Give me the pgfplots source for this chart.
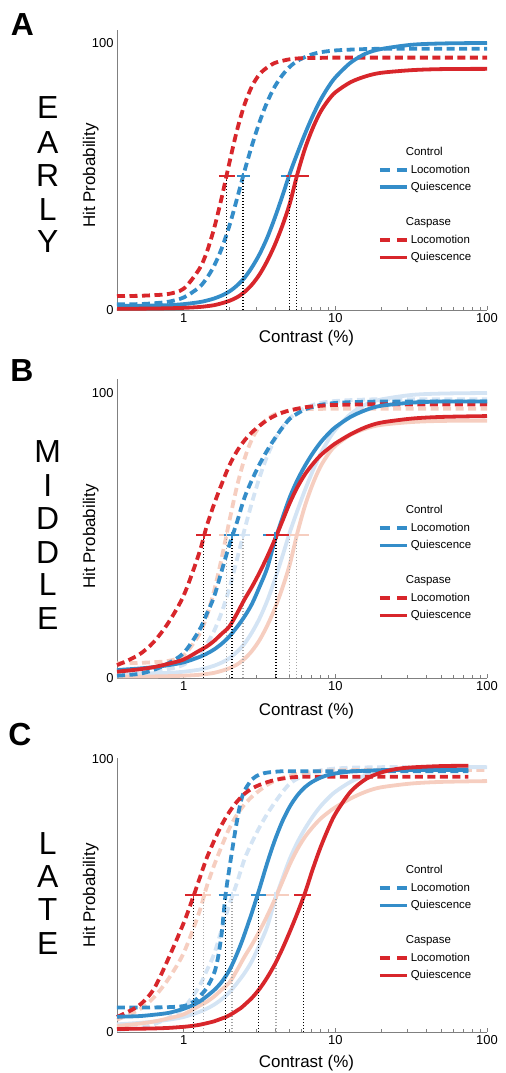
\documentclass[border=0pt]{standalone}
\usepackage{fontspec}
\setmainfont{Liberation Sans}
\usepackage{pgfplots}
\usepackage{pgfplotstable}
\pgfplotsset{compat=1.18}

\definecolor{cb}{RGB}{52,141,201}
\definecolor{cr}{RGB}{216,38,43}
\definecolor{cbf}{RGB}{212,228,244}
\definecolor{crf}{RGB}{246,206,192}
\definecolor{axg}{RGB}{128,128,128}
\definecolor{dotf}{RGB}{165,165,165}

% EARLY
\pgfplotstableread{
x rd bd bs rs
0.363 5.2 2.1 1.5 0.5
0.501 5.3 2.2 1.6 0.5
0.631 5.55 2.5 1.7 0.55
0.794 6.0 3.1 1.8 0.65
1.000 8.0 4.7 2.2 0.8
1.259 15.1 8.4 2.9 1.1
1.413 21.4 11.8 3.5 1.4
1.585 30.5 16.5 4.3 1.8
1.778 42.0 23.0 5.4 2.5
1.995 54.8 31.3 6.9 3.4
2.239 67.0 41.4 9.1 4.7
2.512 76.8 51.9 12.0 6.7
2.818 83.8 61.6 16.0 9.5
3.162 88.3 70.4 20.9 13.3
3.548 90.8 77.8 27.0 18.3
3.981 92.5 83.6 34.4 24.3
4.467 93.3 87.9 42.6 31.5
5.012 93.9 91.1 51.2 40.0
5.623 94.2 93.3 58.8 51.0
6.310 94.3 94.7 66.0 60.5
7.079 94.4 95.8 72.6 68.0
7.943 94.4 96.5 78.4 74.0
8.913 94.5 96.9 83.2 78.3
10.00 94.5 97.2 87.1 81.5
12.59 94.5 97.5 92.6 85.3
15.85 94.5 97.7 96.0 87.5
19.95 94.5 97.8 97.7 88.8
31.62 94.5 97.8 99.3 89.8
50.12 94.5 97.8 99.8 90.2
100.0 94.5 97.8 100.0 90.3
}\tA

% MIDDLE
\pgfplotstableread{
x rd bd bs rs
0.363 4.5 0.8 2.8 2.2
0.501 8.0 1.4 3.3 3.0
0.631 12.5 2.8 3.8 3.8
0.794 19.5 5.2 4.5 5.0
1.000 29.0 8.8 5.5 6.5
1.259 43.5 16.5 7.3 9.5
1.413 53.0 22.3 8.5 11.0
1.585 61.0 28.5 10.0 13.0
1.778 68.0 37.5 12.0 15.5
1.995 74.5 46.5 14.5 18.0
2.239 79.5 54.5 17.8 22.5
2.512 83.3 63.2 21.5 27.5
2.818 86.2 69.5 26.0 32.0
3.162 88.5 75.0 32.0 37.0
3.548 90.5 79.8 38.5 42.5
3.981 92.0 84.0 48.0 48.5
4.467 93.1 87.8 56.0 55.0
5.012 93.9 91.0 63.5 61.5
5.623 94.5 92.8 69.5 67.0
6.310 95.0 94.3 74.5 71.5
7.079 95.3 95.1 78.8 75.0
7.943 95.5 95.8 82.5 78.0
8.913 95.7 96.2 85.5 80.3
10.00 95.8 96.5 88.0 82.3
12.59 95.9 96.8 91.6 85.5
15.85 96.0 96.9 94.0 88.0
19.95 96.0 97.0 95.5 89.6
31.62 96.0 97.0 96.6 91.0
50.12 96.0 97.0 97.0 91.6
100.0 96.0 97.0 97.0 91.9
}\tB

% LATE
\pgfplotstableread{
x rd bd bs rs
0.363 5.5 9.0 5.6 1.1
0.501 9.5 9.0 5.8 1.2
0.631 15.5 9.0 6.3 1.3
0.794 27.0 9.1 7.0 1.5
1.000 40.0 9.5 8.5 1.9
1.122 47.5 10.5 9.6 2.2
1.259 55.5 12.8 11.0 2.6
1.413 63.5 16.0 13.0 3.2
1.585 70.0 21.5 15.3 3.9
1.679 73.0 27.0 16.7 4.4
1.778 75.8 36.0 18.3 4.9
1.884 78.3 50.0 20.3 5.4
1.995 80.5 59.5 22.5 6.1
2.113 82.5 68.5 25.3 6.9
2.239 84.3 77.0 28.5 7.8
2.371 85.8 84.0 31.9 8.7
2.512 87.2 88.3 35.7 9.9
2.818 89.2 92.5 43.8 12.5
3.162 90.5 94.3 52.6 15.8
3.548 91.5 95.0 61.8 19.9
3.981 92.3 95.3 70.1 24.7
4.467 92.8 95.5 77.1 30.4
5.012 93.2 95.5 82.6 36.8
5.623 93.4 95.5 86.7 43.6
6.310 93.5 95.5 89.7 51.0
7.079 93.5 95.5 91.7 59.5
7.943 93.5 95.5 93.1 67.3
8.913 93.5 95.5 94.1 74.1
10.00 93.5 95.5 94.7 79.9
12.59 93.5 95.5 95.4 88.0
15.85 93.5 95.5 95.7 92.6
19.95 93.5 95.5 95.9 95.0
25.12 93.5 95.5 96.0 96.3
31.62 93.5 95.5 96.0 96.9
50.12 93.5 95.5 96.0 97.4
75.30 93.5 95.5 96.0 97.5
}\tC

\pgfplotsset{
  mycrv/.style={line width=3.8bp, smooth, tension=0.5, no markers, forget plot},
  mydsh/.style={dash pattern=on 8bp off 4.5bp},
  mydot/.style={line width=1.3bp, dash pattern=on 1.3bp off 1.7bp, forget plot},
}

\newcommand{\thrbar}[4]{%
  \addplot[#1, line width=2bp, forget plot] coordinates {(#3,50) (#4,50)};
  \addplot[#1, only marks, mark=|, mark size=3.5bp, mark options={line width=1.6bp, solid}, forget plot] coordinates {(#2,50)};
}
\newcommand{\thrdot}[2]{%
  \addplot[#1, mydot] coordinates {(#2,0) (#2,50)};
}
\newcommand{\legendblock}{%
  \addlegendimage{empty legend}\addlegendentry{\hspace*{-5bp}Control}
  \addlegendimage{cb, line width=3.5bp, dash pattern=on 10bp off 7bp}\addlegendentry{Locomotion}
  \addlegendimage{cb, line width=3.5bp}\addlegendentry{Quiescence}
  \addlegendimage{empty legend}\addlegendentry{\strut}
  \addlegendimage{empty legend}\addlegendentry{\hspace*{-5bp}Caspase}
  \addlegendimage{cr, line width=3.5bp, dash pattern=on 10bp off 7bp}\addlegendentry{Locomotion}
  \addlegendimage{cr, line width=3.5bp}\addlegendentry{Quiescence}
}

\begin{document}
\begin{tikzpicture}
\useasboundingbox (0bp,0bp) rectangle (506bp,1073bp);

% panel letters
\node[font=\bfseries\fontsize{32}{32}\selectfont] at (22.5bp,1048.5bp) {A};
\node[font=\bfseries\fontsize{32}{32}\selectfont] at (22bp,702bp) {B};
\node[font=\bfseries\fontsize{32}{32}\selectfont] at (20bp,338.5bp) {C};

% stage names
\begin{scope}[every node/.style={font=\fontsize{32}{32}\selectfont}]
\node at (47.7bp,965bp) {E};
\node at (47.7bp,930.5bp) {A};
\node at (47.7bp,897bp) {R};
\node at (47.7bp,863.5bp) {L};
\node at (47.7bp,831bp) {Y};
\node at (47.7bp,621.3bp) {M};
\node at (47.7bp,587.8bp) {I};
\node at (47.7bp,554bp) {D};
\node at (47.7bp,520.5bp) {D};
\node at (47.7bp,488bp) {L};
\node at (47.7bp,454.7bp) {E};
\node at (47.7bp,229.7bp) {L};
\node at (47.7bp,196.3bp) {A};
\node at (47.7bp,163bp) {T};
\node at (47.7bp,129.7bp) {E};
\end{scope}

% ---------------- A: EARLY
\begin{axis}[at={(117bp,763bp)}, anchor=south west,
  scale only axis, width=370bp, height=280.4bp,
  xmode=log, xmin=0.363, xmax=100, ymin=0, ymax=105,
  axis lines*=left, axis line style={axg, line width=0.9bp},
  xtick={1,10,100}, xticklabels={1,10,100},
  ytick={0,100}, yticklabels={0,100},
  minor xtick={}, minor ytick={},
  tick align=inside, major tick length=4bp,
  x tick style={axg, line width=0.9bp}, y tick style={draw=none},
  tick label style={font=\fontsize{13}{15}\selectfont},
  xlabel={Contrast (\%)}, ylabel={Hit Probability},
  label style={font=\fontsize{17}{20}\selectfont},
  clip=false,
  xlabel style={at={(axis description cs:0.512,-0.1)}, anchor=center},
  ylabel style={at={(axis description cs:-0.071,0.479)}, anchor=center},
  legend cell align=left,
  legend style={draw=none, fill=none, anchor=north west, inner sep=0pt,
    font=\fontsize{11.5}{13}\selectfont, row sep=3.2bp,
    nodes={inner sep=2.2bp}, at={(0.705,0.588)}},
  legend image code/.code={\draw[#1] (0bp,0bp) -- (27bp,0bp);}]
\legendblock
\addplot[cb, mycrv, mydsh] table[x=x, y=bd] {\tA};
\addplot[cr, mycrv, mydsh] table[x=x, y=rd] {\tA};
\addplot[cb, mycrv] table[x=x, y=bs] {\tA};
\addplot[cr, mycrv] table[x=x, y=rs] {\tA};
\thrdot{black}{1.910}
\thrdot{black}{2.455}
\thrdot{black}{4.977}
\thrdot{black}{5.559}
\thrbar{cr}{1.910}{1.706}{2.168}
\thrbar{cb}{2.455}{2.244}{2.716}
\thrbar{cb}{4.977}{4.365}{5.623}
\thrbar{cr}{5.559}{4.742}{6.683}
\end{axis}

% ---------------- B: MIDDLE
\begin{axis}[at={(117bp,395bp)}, anchor=south west,
  scale only axis, width=370bp, height=299.25bp,
  xmode=log, xmin=0.363, xmax=100, ymin=0, ymax=105,
  axis lines*=left, axis line style={axg, line width=0.9bp},
  xtick={1,10,100}, xticklabels={1,10,100},
  ytick={0,100}, yticklabels={0,100},
  minor xtick={}, minor ytick={},
  tick align=inside, major tick length=4bp,
  x tick style={axg, line width=0.9bp}, y tick style={draw=none},
  tick label style={font=\fontsize{13}{15}\selectfont},
  xlabel={Contrast (\%)}, ylabel={Hit Probability},
  label style={font=\fontsize{17}{20}\selectfont},
  clip=false,
  xlabel style={at={(axis description cs:0.512,-0.112)}, anchor=center},
  ylabel style={at={(axis description cs:-0.071,0.473)}, anchor=center},
  legend cell align=left,
  legend style={draw=none, fill=none, anchor=north west, inner sep=0pt,
    font=\fontsize{11.5}{13}\selectfont, row sep=3.2bp,
    nodes={inner sep=2.2bp}, at={(0.705,0.584)}},
  legend image code/.code={\draw[#1] (0bp,0bp) -- (27bp,0bp);}]
\legendblock
% faded early curves
\addplot[cbf, mycrv, mydsh] table[x=x, y=bd] {\tA};
\addplot[crf, mycrv, mydsh] table[x=x, y=rd] {\tA};
\addplot[cbf, mycrv] table[x=x, y=bs] {\tA};
\addplot[crf, mycrv] table[x=x, y=rs] {\tA};
\thrdot{dotf}{1.910}
\thrdot{dotf}{2.455}
\thrdot{dotf}{4.977}
\thrdot{dotf}{5.559}
\thrbar{crf}{1.910}{1.706}{2.168}
\thrbar{cbf}{2.455}{2.244}{2.716}
\thrbar{cbf}{4.977}{4.365}{5.623}
\thrbar{crf}{5.559}{4.742}{6.683}
% middle curves
\addplot[cb, mycrv, mydsh] table[x=x, y=bd] {\tB};
\addplot[cr, mycrv, mydsh] table[x=x, y=rd] {\tB};
\addplot[cb, mycrv] table[x=x, y=bs] {\tB};
\addplot[cr, mycrv] table[x=x, y=rs] {\tB};
\thrdot{black}{1.355}
\thrdot{black}{2.080}
\thrdot{black}{4.009}
\thrdot{black}{4.111}
\thrbar{cr}{1.355}{1.205}{1.521}
\thrbar{cb}{2.080}{1.832}{2.301}
\thrbar{cb}{4.009}{3.357}{4.571}
\thrbar{cr}{4.111}{3.475}{4.909}
\end{axis}

% ---------------- C: LATE
\begin{axis}[at={(117bp,41bp)}, anchor=south west,
  scale only axis, width=370bp, height=274.4bp,
  xmode=log, xmin=0.363, xmax=100, ymin=0, ymax=100.5,
  axis lines*=left, axis line style={axg, line width=0.9bp},
  xtick={1,10,100}, xticklabels={1,10,100},
  ytick={0,100}, yticklabels={0,100},
  minor xtick={}, minor ytick={},
  tick align=inside, major tick length=4bp,
  x tick style={axg, line width=0.9bp}, y tick style={draw=none},
  tick label style={font=\fontsize{13}{15}\selectfont},
  xlabel={Contrast (\%)}, ylabel={Hit Probability},
  label style={font=\fontsize{17}{20}\selectfont},
  clip=false,
  xlabel style={at={(axis description cs:0.512,-0.114)}, anchor=center},
  ylabel style={at={(axis description cs:-0.071,0.497)}, anchor=center},
  legend cell align=left,
  legend style={draw=none, fill=none, anchor=north west, inner sep=0pt,
    font=\fontsize{11.5}{13}\selectfont, row sep=3.2bp,
    nodes={inner sep=2.2bp}, at={(0.705,0.615)}},
  legend image code/.code={\draw[#1] (0bp,0bp) -- (27bp,0bp);}]
\legendblock
% faded middle curves
\addplot[cbf, mycrv, mydsh] table[x=x, y=bd] {\tB};
\addplot[crf, mycrv, mydsh] table[x=x, y=rd] {\tB};
\addplot[cbf, mycrv] table[x=x, y=bs] {\tB};
\addplot[crf, mycrv] table[x=x, y=rs] {\tB};
\thrdot{dotf}{1.355}
\thrdot{dotf}{2.080}
\thrdot{dotf}{4.009}
\thrdot{dotf}{4.111}
\thrbar{crf}{1.355}{1.205}{1.521}
\thrbar{cbf}{2.080}{1.832}{2.301}
\thrbar{cbf}{4.009}{3.357}{4.571}
\thrbar{crf}{4.111}{3.475}{4.909}
% late curves
\addplot[cb, mycrv, mydsh] table[x=x, y=bd] {\tC};
\addplot[cr, mycrv, mydsh] table[x=x, y=rd] {\tC};
\addplot[cb, mycrv] table[x=x, y=bs] {\tC};
\addplot[cr, mycrv] table[x=x, y=rs] {\tC};
\thrdot{black}{1.161}
\thrdot{black}{1.888}
\thrdot{black}{3.112}
\thrdot{black}{6.166}
\thrbar{cr}{1.161}{1.016}{1.318}
\thrbar{cb}{1.888}{1.698}{2.089}
\thrbar{cb}{3.112}{2.786}{3.499}
\thrbar{cr}{6.166}{5.370}{6.918}
\end{axis}
\end{tikzpicture}
\end{document}
